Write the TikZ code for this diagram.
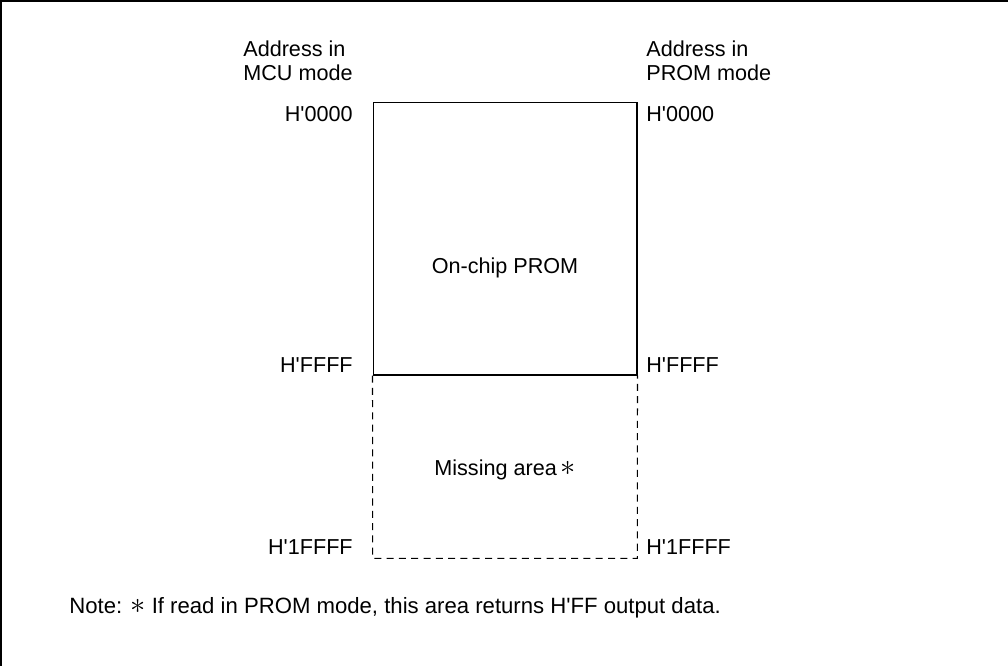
\documentclass[tikz,border=0pt]{standalone}
\usepackage{fontspec}
\setmainfont{Liberation Sans}
\usetikzlibrary{positioning}
\newcommand{\qt}{\textquotesingle}
\newcommand{\starmark}{{\fontsize{17pt}{17pt}\selectfont$\ast$}}
\tikzset{
  region/.style={draw=black,line width=0.6pt,minimum width=5.28cm,inner sep=0pt},
  gaparea/.style={minimum width=5.28cm,inner sep=0pt},
  gapline/.style={draw=black,line width=0.6pt,dashed,dash pattern=on 4pt off 3pt},
  addr/.style={font=\fontsize{12.3pt}{13.7pt}\selectfont,inner sep=0pt},
  header/.style={font=\fontsize{12.3pt}{13.7pt}\selectfont,align=left,inner sep=0pt,anchor=west},
  frame/.style={draw=black,line width=0.9pt}
}

\begin{document}
\begin{tikzpicture}[x=0.02cm,y=-0.02cm]
        \useasboundingbox (0,0) rectangle (1008,666);
        \clip (0,0) rectangle (1008,666);
        \draw[frame] (1,1) rectangle (1100,720);
        \node[region,minimum height=5.46cm] (prom) at (505,238.5) {};
        \node[gaparea,minimum height=3.66cm] (miss) at (505,466.5) {};
        \draw[gapline] (prom.south west) -- (miss.south west) -- (miss.south east) -- (prom.south east);
        \node[addr] (promtxt) at (505,268) {On-chip PROM};
        \node[addr] (misstxt) at (505,470) {Missing area\,\starmark};
        \node[header] (mcuhead) at (243,61) {Address in\\MCU mode};
        \node[header] (promhead) at (646,61) {Address in\\PROM mode};
        \node[addr,anchor=east] (mcutop) at (353,114) {H\qt0000};
        \node[addr,anchor=east] (mcuend) at (353,365) {H\qt FFFF};
        \node[addr,anchor=east] (mcugap) at (353,547) {H\qt1FFFF};
        \node[addr,anchor=west] (promtop) at (646,114) {H\qt0000};
        \node[addr,anchor=west] (promend) at (646,365) {H\qt FFFF};
        \node[addr,anchor=west] (promgap) at (646,547) {H\qt1FFFF};
        \node[addr,anchor=west,font=\fontsize{12.6pt}{14pt}\selectfont] (note) at (69,608) {Note: \starmark\ If read in PROM mode, this area returns H\qt FF output data.};
      \end{tikzpicture}
\end{document}
